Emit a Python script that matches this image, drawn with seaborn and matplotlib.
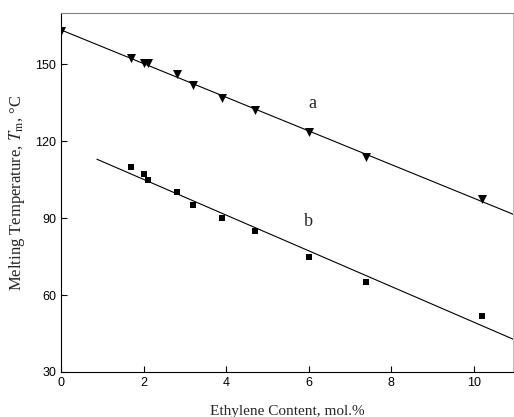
import numpy as np
import pandas as pd
import matplotlib
matplotlib.use("Agg")
import matplotlib.pyplot as plt
import seaborn as sns

# dati
eth_a = [0.0, 1.7, 2.0, 2.1, 2.8, 3.2, 3.9, 4.7, 6.0, 7.4, 10.2]
tm_a = [163, 152.5, 150.5, 150.5, 146, 142, 137, 132, 123.5, 114, 97.5]
eth_b = [1.7, 2.0, 2.1, 2.8, 3.2, 3.9, 4.7, 6.0, 7.4, 10.2]
tm_b = [110, 107, 105, 100, 95, 90, 85, 75, 65, 52]
fit_range_a = [0.0, 11.0]
fit_range_b = [0.87, 11.0]

sns.set_style("ticks")
plt.rcParams['font.family'] = ['Liberation Sans', 'DejaVu Sans']
plt.rcParams['mathtext.fontset'] = 'stix'

df_a = pd.DataFrame({'x': eth_a, 'y': tm_a})
df_b = pd.DataFrame({'x': eth_b, 'y': tm_b})

fig = plt.figure(figsize=(5.14, 4.17), dpi=100)
ax = fig.add_axes([0.1187, 0.108, 0.879, 0.861])

sns.scatterplot(data=df_a, x='x', y='y', marker='v', color='black', s=42,
                edgecolor='black', linewidth=0, ax=ax, zorder=3)
sns.scatterplot(data=df_b, x='x', y='y', marker='s', color='black', s=22,
                edgecolor='black', linewidth=0, ax=ax, zorder=3)

# rette di regressione
for xs, ys, rng in [(eth_a, tm_a, fit_range_a), (eth_b, tm_b, fit_range_b)]:
    k, q = np.polyfit(xs, ys, 1)
    xx = np.array(rng)
    ax.plot(xx, k * xx + q, color='black', lw=0.8, zorder=2)

ax.text(6.1, 134.5, 'a', family='Liberation Serif', fontsize=13, ha='center', va='center')
ax.text(6.0, 88.5, 'b', family='Liberation Serif', fontsize=13, ha='center', va='center')

ax.set_xlim(0, 10.95)
ax.set_ylim(30, 170)
ax.set_xticks([0, 2, 4, 6, 8, 10])
ax.set_yticks([30, 60, 90, 120, 150])
ax.tick_params(direction='in', length=4, width=0.8, labelsize=9, colors='black')
ax.set_xlabel('Ethylene Content, mol.%', family='Liberation Serif', fontsize=11, labelpad=12)
ax.set_ylabel('Melting Temperature, $T_{\\mathrm{m}}$, °C', family='Liberation Serif', fontsize=12, labelpad=6)
for sp in ax.spines.values():
    sp.set_linewidth(0.8)
    sp.set_color('black')
ax.spines['top'].set_color('0.5')
ax.spines['right'].set_color('0.75')

fig.savefig('out.png', dpi=100)
